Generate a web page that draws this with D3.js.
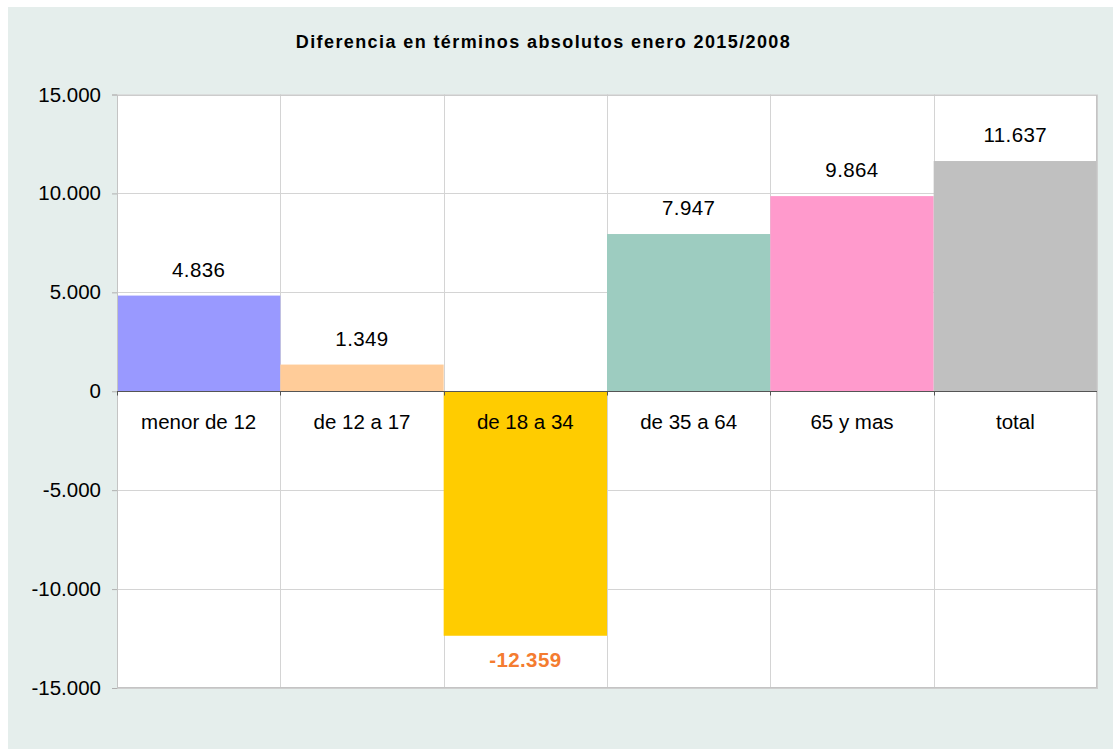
<!DOCTYPE html>
<html><head><meta charset="utf-8">
<script src="https://cdn.jsdelivr.net/npm/d3@7"></script>
<style>html,body{margin:0;padding:0;background:#fff;}svg{display:block;}</style>
</head><body><svg id="c" width="1113" height="749"></svg>
<script>
const categories = ["menor de 12","de 12 a 17","de 18 a 34","de 35 a 64","65 y mas","total"];
const values = [4836, 1349, -12359, 7947, 9864, 11637];
const colors = ["#9999ff","#ffcc99","#ffcc00","#9dccc0","#ff9acc","#c0c0c0"];
const yTicks = [-15000,-10000,-5000,0,5000,10000,15000];
const title = "Diferencia en términos absolutos enero 2015/2008";

const svg = d3.select("#c");
const fmt = v => (v<0?"-":"") + d3.format(",.0f")(Math.abs(v)).replace(/,/g,".");
const font = "'Liberation Sans', Arial, sans-serif";

svg.append("rect").attr("x",8).attr("y",7).attr("width",1105).attr("height",742).attr("fill","#e5eeec");

const L=117, R=1097, T=94.5, B=688;
const x = d3.scaleBand().domain(categories).range([L,R]).padding(0);
const y = d3.scaleLinear().domain([-15000,15000]).range([B,T]);

svg.append("rect").attr("x",L).attr("y",T).attr("width",R-L).attr("height",B-T).attr("fill","#fff");

// gridlines
svg.append("g").selectAll("line").data(yTicks).join("line")
  .attr("x1",L).attr("x2",R).attr("y1",d=>Math.round(y(d))+0.5).attr("y2",d=>Math.round(y(d))+0.5)
  .attr("stroke","#d4d4d4");
svg.append("g").selectAll("line").data(categories.slice(1)).join("line")
  .attr("x1",d=>Math.round(x(d))+0.5).attr("x2",d=>Math.round(x(d))+0.5).attr("y1",T).attr("y2",B)
  .attr("stroke","#d4d4d4");

// bars
svg.append("g").selectAll("rect").data(values).join("rect")
  .attr("x",(d,i)=>x(categories[i]))
  .attr("width",x.bandwidth())
  .attr("y",d=>y(Math.max(0,d)))
  .attr("height",d=>Math.abs(y(d)-y(0)))
  .attr("fill",(d,i)=>colors[i]);

// border
svg.append("rect").attr("x",L+0.5).attr("y",T+0.5).attr("width",R-L-1).attr("height",B-T-1)
  .attr("fill","none").attr("stroke","#c4c4c4");
svg.append("line").attr("x1",R+0.5).attr("x2",R+0.5).attr("y1",T).attr("y2",B+1).attr("stroke","#cfcfcf");
svg.append("line").attr("x1",L).attr("x2",R+1).attr("y1",B+0.5).attr("y2",B+0.5).attr("stroke","#cfcfcf");

// y axis
const yAxis = d3.axisLeft(y).tickValues(yTicks).tickSize(5).tickPadding(11).tickFormat(fmt);
const ya = svg.append("g").attr("transform",`translate(${L},0)`).call(yAxis);
ya.select(".domain").attr("stroke","#c4c4c4");
ya.selectAll(".tick line").attr("stroke","#b0b0b0");
ya.selectAll("text").attr("font-family",font).attr("font-size",20.5).attr("fill","#000");

// zero axis
const y0 = Math.round(y(0))+0.5;
svg.append("line").attr("x1",L).attr("x2",R).attr("y1",y0).attr("y2",y0).attr("stroke","#555");
svg.append("g").selectAll("line").data(categories).join("line")
  .attr("x1",d=>Math.round(x(d))+0.5).attr("x2",d=>Math.round(x(d))+0.5)
  .attr("y1",y0).attr("y2",y0+4).attr("stroke","#555");

// category labels
svg.append("g").selectAll("text").data(categories).join("text")
  .attr("x",d=>x(d)+x.bandwidth()/2).attr("y",y0+37)
  .attr("text-anchor","middle").attr("font-family",font).attr("font-size",20.5).attr("fill","#000")
  .text(d=>d);

// value labels
svg.append("g").selectAll("text").data(values).join("text")
  .attr("x",(d,i)=>x(categories[i])+x.bandwidth()/2)
  .attr("y",d=> d>=0 ? y(d)-19 : y(d)+31)
  .attr("text-anchor","middle").attr("font-family",font).attr("font-size",20.5)
  .attr("letter-spacing",0.4)
  .attr("font-weight",d=>d<0?"bold":"normal")
  .attr("fill",d=>d<0?"#f47c30":"#000")
  .text(fmt);

// title
svg.append("text").attr("x",543.5).attr("y",48).attr("text-anchor","middle")
  .attr("font-family",font).attr("font-size",18).attr("font-weight","bold").attr("letter-spacing",1.4)
  .attr("fill","#000").text(title);
</script></body></html>
